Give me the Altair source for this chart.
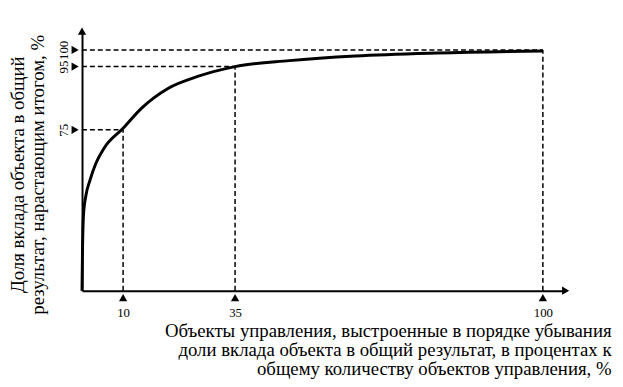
import altair as alt
import pandas as pd

# Curve: cumulative contribution (%) vs share of control objects (%)
curve_x = [0, 0.15, 0.42, 1.08, 2.08, 3.54, 5.45, 10, 14.2, 20.2, 26.8, 35, 46.7, 60.8, 78.0, 100]
curve_y = [0, 28.5, 43.9, 51.7, 57.3, 63.4, 68.6, 75.5, 82.0, 88.3, 92.0, 95, 96.8, 98.2, 99.1, 99.7]

# Marked points (dashed guides)
mark_x = [10, 35, 100]
mark_y = [75, 95, 100]

y_title = ["Доля вклада объекта в общий", "результат, нарастающим итогом, %"]
x_title = ["Объекты управления, выстроенные в порядке убывания",
           "доли вклада объекта в общий результат, в процентах к",
           "общему количеству объектов управления, %"]

X_MAX = 104.7
Y_MAX = 105.5
FONT = "Liberation Serif"

xs = alt.Scale(type="pow", exponent=1.05, domain=[0, X_MAX], nice=False, zero=True)
ys = alt.Scale(type="pow", exponent=1.4, domain=[0, Y_MAX], nice=False, zero=True)

curve_df = pd.DataFrame({"x": curve_x, "y": curve_y})
marks_df = pd.DataFrame({"x": mark_x, "y": mark_y, "zero": [0] * len(mark_x)})

x_axis = alt.Axis(values=mark_x, title=x_title, grid=False, ticks=False,
                  domainColor="black", domainWidth=2,
                  labelFont=FONT, labelFontSize=13, labelColor="black", labelPadding=16,
                  titleFont=FONT, titleFontSize=19, titleFontWeight="normal", titleColor="black",
                  titleAnchor="end", titleAlign="right", titleBaseline="alphabetic",
                  titleX=536, titleY=46, titleLineHeight=19.5)
y_axis = alt.Axis(values=mark_y, title=y_title, grid=False, ticks=False,
                  domainColor="black", domainWidth=2,
                  labelFont=FONT, labelFontSize=13, labelColor="black", labelPadding=12,
                  labelAngle=270, labelAlign="center", labelBaseline="bottom",
                  titleFont=FONT, titleFontSize=19, titleFontWeight="normal", titleColor="black",
                  titleAngle=270, titleAlign="center", titleBaseline="top",
                  titleX=-74, titleY=145, titleLineHeight=19.5)

base_curve = alt.Chart(curve_df).mark_line(color="black", strokeWidth=3, interpolate="monotone").encode(
    x=alt.X("x:Q", scale=xs, axis=x_axis),
    y=alt.Y("y:Q", scale=ys, axis=y_axis),
)

dash = [5, 3]
h_rules = alt.Chart(marks_df).mark_rule(color="black", strokeWidth=1.5, strokeDash=dash).encode(
    x=alt.X("zero:Q", scale=xs), x2="x:Q", y=alt.Y("y:Q", scale=ys))
v_rules = alt.Chart(marks_df).mark_rule(color="black", strokeWidth=1.5, strokeDash=dash).encode(
    x=alt.X("x:Q", scale=xs), y=alt.Y("zero:Q", scale=ys), y2="y:Q")

y_tri = alt.Chart(marks_df).mark_point(shape="triangle-right", filled=True, color="black",
                                       size=70, opacity=1, xOffset=-7).encode(
    x=alt.X("zero:Q", scale=xs), y=alt.Y("y:Q", scale=ys))
x_tri = alt.Chart(marks_df).mark_point(shape="triangle-up", filled=True, color="black",
                                       size=70, opacity=1, yOffset=7).encode(
    x=alt.X("x:Q", scale=xs), y=alt.Y("zero:Q", scale=ys))

arrow_df = pd.DataFrame({"x": [0, X_MAX], "y": [Y_MAX, 0], "shape": ["triangle-up", "triangle-right"]})
arrows = alt.Chart(arrow_df).mark_point(filled=True, color="black", size=70, opacity=1).encode(
    x=alt.X("x:Q", scale=xs), y=alt.Y("y:Q", scale=ys),
    shape=alt.Shape("shape:N", scale=None, legend=None))

chart = alt.layer(h_rules, v_rules, base_curve, y_tri, x_tri, arrows).properties(
    width=490, height=263,
    autosize=alt.AutoSizeParams(type="none"),
    padding={"left": 75, "top": 21, "right": 50, "bottom": 91},
    background="white",
).configure_view(stroke=None)

chart.save("out.html", embed_options={"renderer": "svg", "actions": False})
